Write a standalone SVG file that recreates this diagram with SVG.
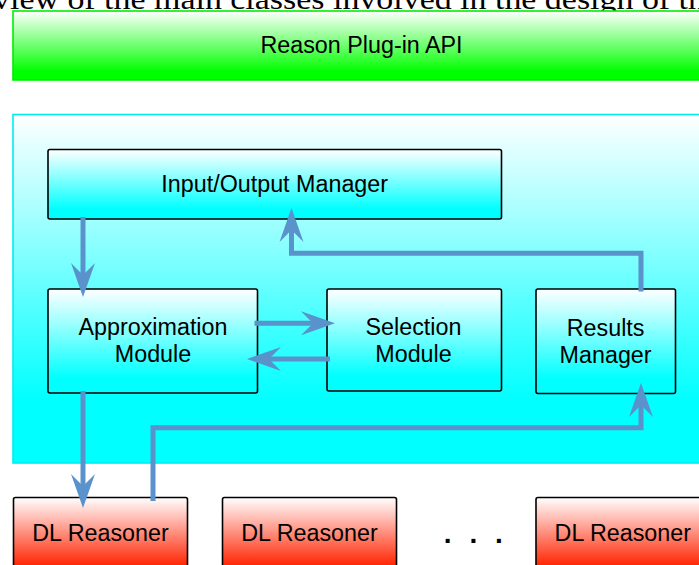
<svg xmlns="http://www.w3.org/2000/svg" width="699" height="565" viewBox="0 0 699 565">
  <style>
    .lbl { font-family: "Liberation Sans", Arial, Helvetica, sans-serif; font-size: 23.3px; fill: #000; text-anchor: middle; }
    .box { stroke: #000; stroke-width: 1.6; }
    .conn { fill: none; stroke: #5a92cc; stroke-width: 5; stroke-linejoin: miter; stroke-linecap: butt; }
    .caption { font-family: "Liberation Serif", "Times New Roman", serif; font-size: 30px; fill: #000; }
  </style>
  <defs>
    <linearGradient id="gGreen" x1="0" y1="0" x2="0" y2="1">
      <stop offset="0" stop-color="#ffffff"/>
      <stop offset="0.88" stop-color="#00ff00"/>
    </linearGradient>
    <linearGradient id="gPanel" x1="0" y1="0" x2="0" y2="1">
      <stop offset="0" stop-color="#ffffff"/>
      <stop offset="0.82" stop-color="#00ffff"/>
    </linearGradient>
    <linearGradient id="gCyan" x1="0" y1="0" x2="0" y2="1">
      <stop offset="0" stop-color="#ffffff"/>
      <stop offset="0.86" stop-color="#00ffff"/>
    </linearGradient>
    <linearGradient id="gRed" x1="0" y1="0" x2="0" y2="1">
      <stop offset="0" stop-color="#ffffff"/>
      <stop offset="0.92" stop-color="#ff2200"/>
    </linearGradient>
    <!-- barbed arrowhead; the path ends at the notch, the tip reaches 22px further -->
    <marker id="head" markerUnits="userSpaceOnUse" viewBox="-13 -13 36 26" markerWidth="36" markerHeight="26" refX="0" refY="0" orient="auto">
      <path d="M22,0 L-12,-12 L0,0 L-12,12 Z" fill="#5a92cc"/>
    </marker>
  </defs>

  <rect width="699" height="565" fill="#ffffff"/>

  <!-- caption line running off the top edge -->
  <text class="caption" x="-7" y="9" textLength="712" lengthAdjust="spacingAndGlyphs">view of the main classes involved in the design of th</text>

  <g id="plugin-api">
    <rect x="13" y="11" width="700" height="69" fill="url(#gGreen)" stroke="#00ee00" stroke-width="1.6"/>
    <text class="lbl" x="361.5" y="52.5">Reason Plug-in API</text>
  </g>

  <g id="core-panel">
    <rect x="13" y="114.5" width="700" height="348.5" fill="url(#gPanel)" stroke="#00eeee" stroke-width="1.6"/>
  </g>

  <g id="io-manager">
    <rect class="box" x="48" y="149.5" width="453.5" height="69.5" rx="2" fill="url(#gCyan)"/>
    <text class="lbl" x="274.7" y="191.7">Input/Output Manager</text>
  </g>

  <g id="approximation-module">
    <rect class="box" x="48" y="289" width="209.5" height="104" rx="2" fill="url(#gCyan)"/>
    <text class="lbl" x="153" y="335">Approximation</text>
    <text class="lbl" x="153" y="361.7">Module</text>
  </g>

  <g id="selection-module">
    <rect class="box" x="327" y="289" width="174.5" height="102" rx="2" fill="url(#gCyan)"/>
    <text class="lbl" x="413.5" y="335">Selection</text>
    <text class="lbl" x="413.5" y="361.7">Module</text>
  </g>

  <g id="results-manager">
    <rect class="box" x="536" y="289" width="139.5" height="104.5" rx="2" fill="url(#gCyan)"/>
    <text class="lbl" x="605.6" y="335.5">Results</text>
    <text class="lbl" x="605.6" y="362.5">Manager</text>
  </g>

  <g id="dl-reasoner-1">
    <rect class="box" x="13.5" y="497.5" width="174" height="75" rx="2" fill="url(#gRed)"/>
    <text class="lbl" x="100.5" y="540.7">DL Reasoner</text>
  </g>

  <g id="dl-reasoner-2">
    <rect class="box" x="222.5" y="497.5" width="174" height="75" rx="2" fill="url(#gRed)"/>
    <text class="lbl" x="309.5" y="540.7">DL Reasoner</text>
  </g>

  <g id="ellipsis">
    <text class="lbl" x="447.7 473.3 499" y="543.3" style="font-weight:bold;font-size:28px">...</text>
  </g>

  <g id="dl-reasoner-n">
    <rect class="box" x="536" y="497.5" width="174" height="75" rx="2" fill="url(#gRed)"/>
    <text class="lbl" x="622.8" y="540.7">DL Reasoner</text>
  </g>

  <g id="connectors">
    <!-- I/O manager to approximation module -->
    <path class="conn" d="M83,217 V275" marker-end="url(#head)"/>
    <!-- results manager back to I/O manager -->
    <path class="conn" d="M641,291.5 V253.3 H291.5 V230" marker-end="url(#head)"/>
    <!-- approximation to selection -->
    <path class="conn" d="M254.5,323.3 H313" marker-end="url(#head)"/>
    <!-- selection to approximation -->
    <path class="conn" d="M330,359 H269" marker-end="url(#head)"/>
    <!-- approximation to first reasoner -->
    <path class="conn" d="M83,391 V486" marker-end="url(#head)"/>
    <!-- first reasoner to results manager -->
    <path class="conn" d="M153,501 V427.7 H641 V405" marker-end="url(#head)"/>
  </g>
</svg>
